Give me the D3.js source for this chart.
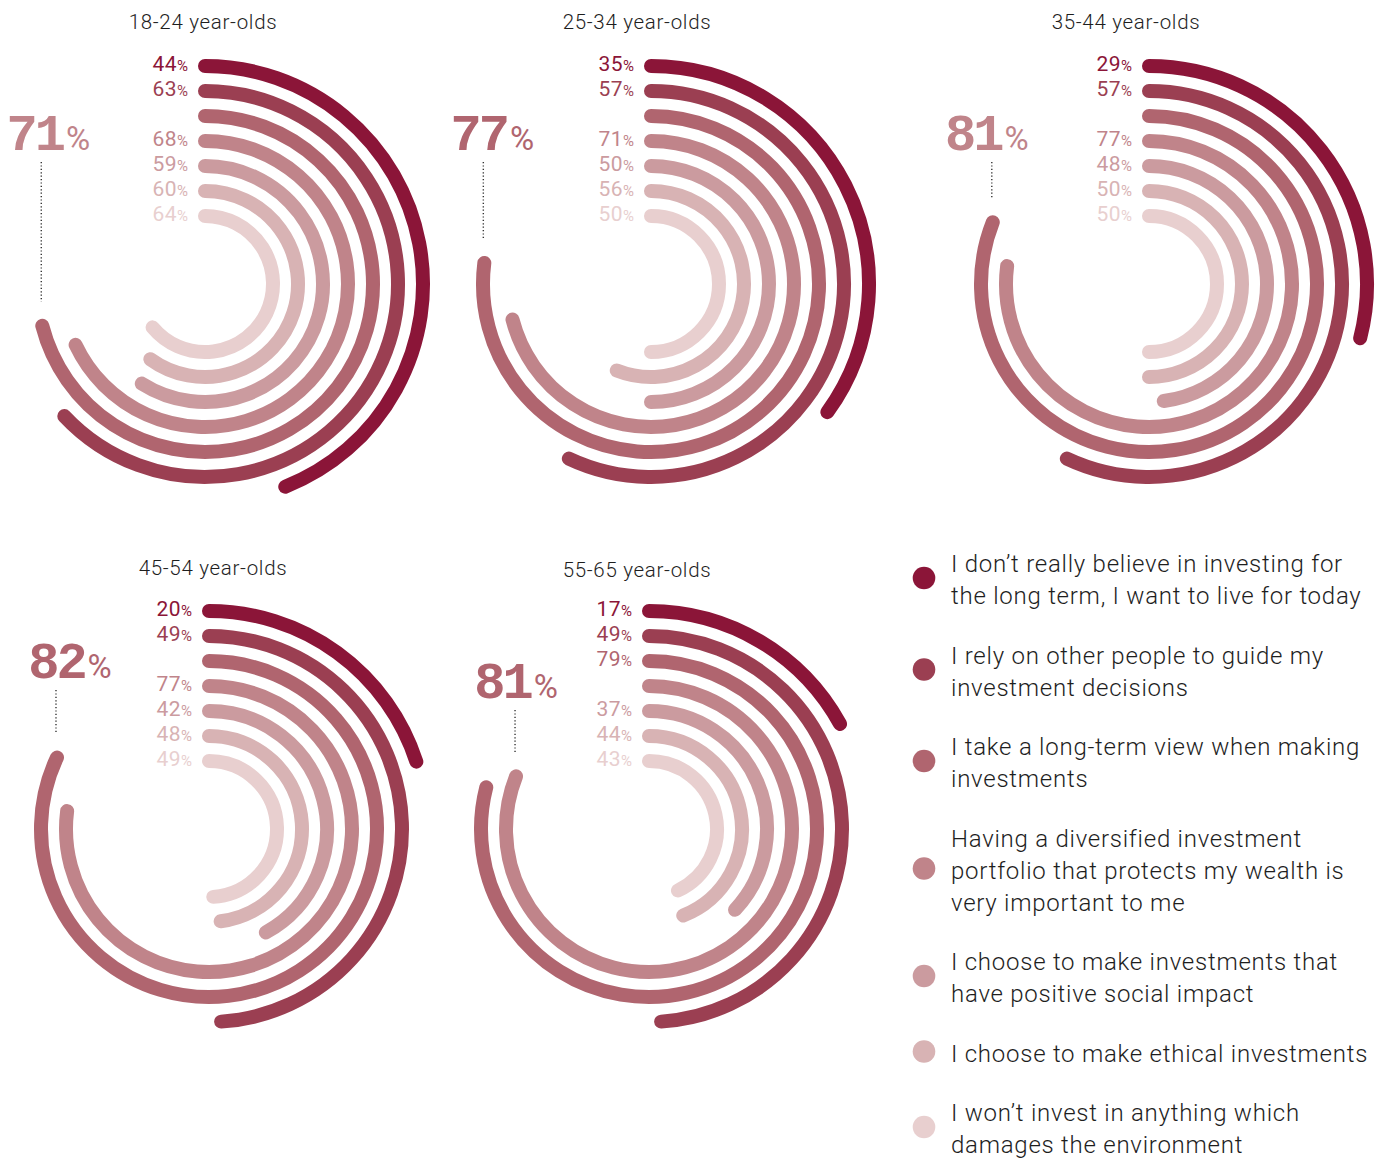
<!DOCTYPE html>
<html>
<head>
<meta charset="utf-8">
<script src="https://cdn.jsdelivr.net/npm/d3@7"></script>
<style>
  body { margin: 0; background: #ffffff; }
  svg { display: block; }
</style>
</head>
<body>
<svg id="chart" width="1385" height="1158"></svg>
<script>
// ---- data -------------------------------------------------------------
const ageGroups = ["18-24 year-olds", "25-34 year-olds", "35-44 year-olds", "45-54 year-olds", "55-65 year-olds"];

const statements = [
  ["I don’t really believe in investing for", "the long term, I want to live for today"],
  ["I rely on other people to guide my", "investment decisions"],
  ["I take a long-term view when making", "investments"],
  ["Having a diversified investment", "portfolio that protects my wealth is", "very important to me"],
  ["I choose to make investments that", "have positive social impact"],
  ["I choose to make ethical investments"],
  ["I won’t invest in anything which", "damages the environment"]
];

// share agreeing with each statement (%), one array per age group
const values18to24 = [44, 63, 71, 68, 59, 60, 64];
const values25to34 = [35, 57, 77, 71, 50, 56, 50];
const values35to44 = [29, 57, 81, 77, 48, 50, 50];
const values45to54 = [20, 49, 82, 77, 42, 48, 49];
const values55to65 = [17, 49, 79, 81, 37, 44, 43];

// which statement is called out with the large figure in each group
const headlineStatement = [2, 2, 2, 2, 3];

// ---- styling / layout -------------------------------------------------
const ringColors = ["#8b1538", "#9b3f52", "#b0656f", "#c0848a", "#cb9b9f", "#d8b3b4", "#e8cfcf"];

const panels = [
  { cx: 205,  cy: 284, titleX: 203,  titleY: 29,  bigY: 150, bigDx: 2,   bigColor: "#c0848a" },
  { cx: 651,  cy: 284, titleX: 637,  titleY: 29,  bigY: 150, bigDx: 4,   bigColor: "#b0656f" },
  { cx: 1149, cy: 284, titleX: 1126, titleY: 29,  bigY: 150, bigDx: -10, bigColor: "#c0848a" },
  { cx: 209,  cy: 829, titleX: 213,  titleY: 575, bigY: 678, bigDx: 9,   bigColor: "#b0656f" },
  { cx: 649,  cy: 829, titleX: 637,  titleY: 577, bigY: 698, bigDx: -4,  bigColor: "#b0656f" }
];
const groupValues = [values18to24, values25to34, values35to44, values45to54, values55to65];

const FONT = "Roboto, 'Liberation Sans', Arial, sans-serif";
const STROKE = 14;

const svg = d3.select("#chart");

// percent -> angle (clockwise from 12 o'clock)
const angle = d3.scaleLinear().domain([0, 100]).range([0, 2 * Math.PI]);
// statement index -> ring radius (outermost first)
const radius = d3.scaleLinear().domain([0, statements.length - 1]).range([218, 68]);

function arcPath(r, v) {
  const p = d3.path();
  const a0 = -Math.PI / 2;
  p.arc(0, 0, r, a0, a0 + angle(v), false);
  return p.toString();
}

panels.forEach((pn, gi) => {
  const vals = groupValues[gi];
  const g = svg.append("g").attr("transform", `translate(${pn.cx},${pn.cy})`);

  // title
  svg.append("text")
    .attr("x", pn.titleX).attr("y", pn.titleY)
    .attr("text-anchor", "middle")
    .attr("font-family", FONT).attr("font-size", 20.5).attr("font-weight", 300)
    .attr("letter-spacing", 0.7)
    .attr("fill", "#1e1e1e")
    .text(ageGroups[gi]);

  // rings
  g.selectAll("path.ring")
    .data(vals)
    .join("path")
    .attr("class", "ring")
    .attr("d", (v, i) => arcPath(radius(i), v))
    .attr("fill", "none")
    .attr("stroke", (v, i) => ringColors[i])
    .attr("stroke-width", STROKE)
    .attr("stroke-linecap", "round");

  // small value labels at the start of each ring
  const labelled = vals.map((v, i) => ({ v, i })).filter(d => d.i !== headlineStatement[gi]);
  const lab = g.selectAll("text.val")
    .data(labelled)
    .join("text")
    .attr("class", "val")
    .attr("x", -17)
    .attr("y", d => -radius(d.i) + 5)
    .attr("text-anchor", "end")
    .attr("font-family", FONT)
    .attr("fill", d => ringColors[d.i]);
  lab.append("tspan").attr("font-size", 21).attr("letter-spacing", 0.4).text(d => d.v);
  lab.append("tspan").attr("font-size", 15).text("%");

  // headline figure with a dotted leader down to the end of its ring
  const hi = headlineStatement[gi];
  const hv = vals[hi];
  const hr = radius(hi);
  const ex = hr * Math.sin(angle(hv));
  const ey = -hr * Math.cos(angle(hv));
  const big = svg.append("text")
    .attr("x", pn.cx + ex + 4 + pn.bigDx)
    .attr("y", pn.bigY)
    .attr("text-anchor", "middle")
    .attr("font-family", "'Liberation Mono', monospace")
    .attr("fill", pn.bigColor);
  big.append("tspan").attr("font-size", 52).attr("font-weight", 700)
    .attr("letter-spacing", -3).text(hv);
  big.append("tspan").attr("font-size", 33).attr("font-family", FONT)
    .attr("dx", 3).text("%");

  svg.append("line")
    .attr("x1", pn.cx + ex - 1).attr("x2", pn.cx + ex - 1)
    .attr("y1", pn.bigY + 12).attr("y2", pn.cy + ey - 24)
    .attr("stroke", "#333").attr("stroke-width", 1.4)
    .attr("stroke-dasharray", "1.2,2.2");
});

// ---- legend -----------------------------------------------------------
const legend = svg.append("g").attr("class", "legend");
const lineH = 32, itemGap = 27.5;
let yTop = 564; // centre line of the first text row
statements.forEach((lines, i) => {
  const n = lines.length;
  const blockMid = yTop + (n - 1) * lineH / 2;
  legend.append("circle")
    .attr("cx", 924).attr("cy", blockMid - 2).attr("r", 11.3)
    .attr("fill", ringColors[i]);
  const t = legend.append("text")
    .attr("font-family", FONT).attr("font-size", 24).attr("font-weight", 300)
    .attr("letter-spacing", 0.75)
    .attr("fill", "#1e1e1e");
  lines.forEach((ln, k) => {
    t.append("tspan").attr("x", 951).attr("y", yTop + k * lineH + 8).text(ln);
  });
  yTop += n * lineH + itemGap;
});
</script>
</body>
</html>
